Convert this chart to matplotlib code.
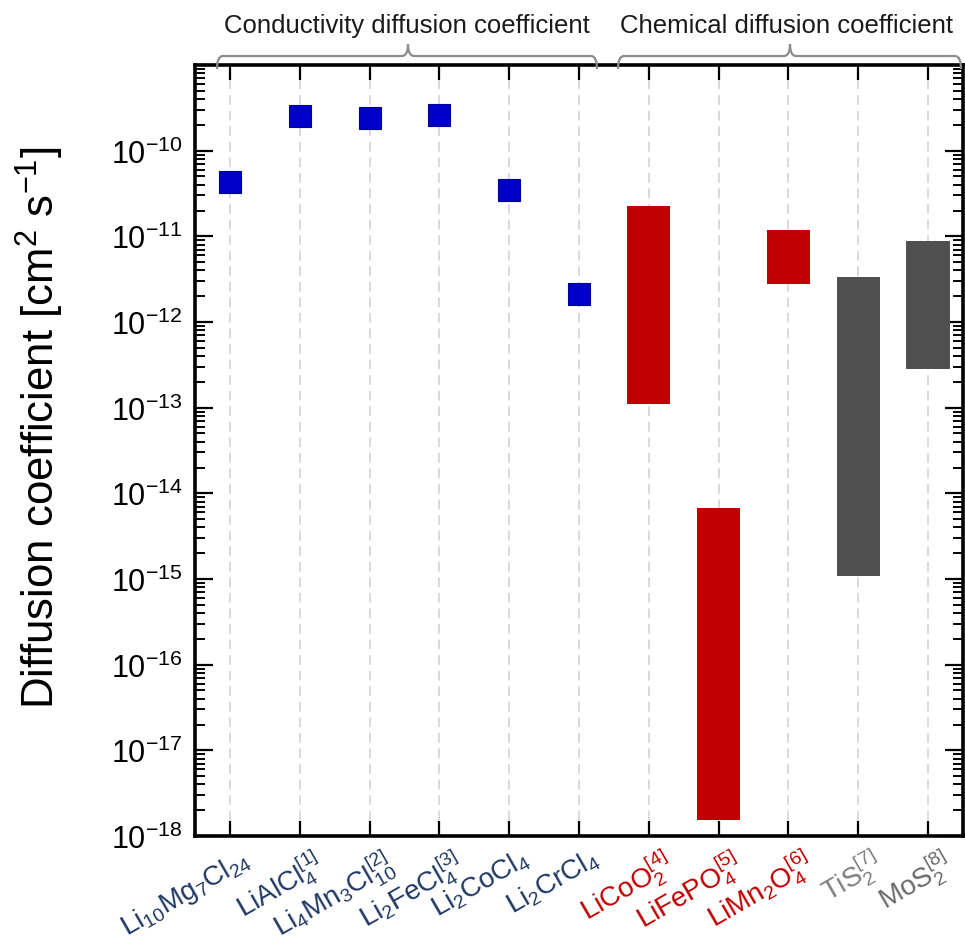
import numpy as np
import matplotlib
matplotlib.use("Agg")
import matplotlib.pyplot as plt
from matplotlib import font_manager as fm
from matplotlib.path import Path
from matplotlib.patches import PathPatch
import matplotlib.ticker as mticker
import matplotlib.transforms as mtransforms

# ---- data ----
conductivity_labels = [
    r"Li$_{10}$Mg$_7$Cl$_{24}$",
    r"LiAlCl$_4^{[1]}$",
    r"Li$_4$Mn$_3$Cl$_{10}^{[2]}$",
    r"Li$_2$FeCl$_4^{[3]}$",
    r"Li$_2$CoCl$_4$",
    r"Li$_2$CrCl$_4$",
]
conductivity_values = [4.35e-11, 2.56e-10, 2.40e-10, 2.58e-10, 3.47e-11, 2.13e-12]

chemical_labels = [
    r"LiCoO$_2^{[4]}$",
    r"LiFePO$_4^{[5]}$",
    r"LiMn$_2$O$_4^{[6]}$",
    r"TiS$_2^{[7]}$",
    r"MoS$_2^{[8]}$",
]
chemical_low = [1.10e-13, 1.55e-18, 2.79e-12, 1.08e-15, 2.79e-13]
chemical_high = [2.24e-11, 6.80e-15, 1.17e-11, 3.37e-12, 8.90e-12]

label_colors = ["#1F3864"] * 6 + ["#C00000"] * 3 + ["#7F7F7F", "#6A6A6A"]
bar_colors = ["#C00000", "#C00000", "#C00000", "#505050", "#505050"]

header_left = "Conductivity diffusion coefficient"
header_right = "Chemical diffusion coefficient"

# ---- fonts ----
names = {f.name for f in fm.fontManager.ttflist}
base_font = "Liberation Sans" if "Liberation Sans" in names else "DejaVu Sans"

plt.rcParams["font.family"] = [base_font, "DejaVu Sans"]
plt.rcParams["mathtext.default"] = "regular"
plt.rcParams["axes.unicode_minus"] = False

W, H = 965, 945
fig = plt.figure(figsize=(W / 100, H / 100), dpi=100)
ax = fig.add_axes([195 / W, 1 - 837 / H, (963 - 195) / W, (837 - 66) / H])

n_cond = len(conductivity_values)
x_cond = np.arange(n_cond)
x_chem = np.arange(n_cond, n_cond + len(chemical_low))
all_labels = conductivity_labels + chemical_labels

# grid lines at each category
for xi in range(len(all_labels)):
    ax.axvline(xi, color="#D9D9D9", lw=1.4, ls=(0, (5, 3)), zorder=0)

# floating range bars
low = np.array(chemical_low)
high = np.array(chemical_high)
ax.bar(x_chem, high - low, bottom=low, width=0.62, color=bar_colors,
       edgecolor="none", zorder=2)

# conductivity markers
ax.plot(x_cond, conductivity_values, ls="none", marker="s", ms=16,
        mfc="#0000C8", mec="#00009A", mew=0.8, zorder=3)

ax.set_yscale("log")
ax.set_ylim(1e-18, 1e-9)
ax.set_xlim(-0.5, len(all_labels) - 0.5)

ax.yaxis.set_major_locator(mticker.LogLocator(base=10, numticks=20))
ax.yaxis.set_minor_locator(mticker.LogLocator(base=10, subs=np.arange(2, 10), numticks=20))
ax.yaxis.set_minor_formatter(mticker.NullFormatter())

def fmt(v, pos):
    e = int(round(np.log10(v)))
    if e == -9:
        return ""
    return r"$\mathdefault{10^{%d}}$" % e

ax.yaxis.set_major_formatter(mticker.FuncFormatter(fmt))

ax.tick_params(axis="y", which="major", direction="in", length=13, width=1.6,
               left=True, right=True, labelsize=22, pad=9)
ax.tick_params(axis="y", which="minor", direction="in", length=7, width=1.4,
               left=True, right=True)
ax.tick_params(axis="x", which="major", direction="in", length=11, width=1.6,
               top=True, bottom=True)
ax.tick_params(axis="x", which="minor", bottom=False, top=False)

ax.set_xticks(range(len(all_labels)))
ax.set_xticklabels(all_labels, rotation=30, ha="right", rotation_mode="anchor",
                   fontsize=20)
offset = mtransforms.ScaledTranslation(8 / 72, -2 / 72, fig.dpi_scale_trans)
for lab, c in zip(ax.get_xticklabels(), label_colors):
    lab.set_color(c)
    lab.set_transform(lab.get_transform() + offset)

for sp in ax.spines.values():
    sp.set_linewidth(2.6)

ax.set_ylabel(r"Diffusion coefficient [cm$^2$ s$^{-1}$]", fontsize=31.5)
ax.yaxis.set_label_coords((66 - 195) / 768, (837 - 428) / 771)

# ---- headers with braces ----
def fig_xy(px, py):
    return (px / W, 1 - py / H)

def brace(xl, xr, xc, y0=57, yend=70, ytip=45, r=6):
    verts = [
        fig_xy(xl, yend), fig_xy(xl, y0), fig_xy(xl + r, y0),
        fig_xy(xc - r, y0), fig_xy(xc, y0), fig_xy(xc, ytip),
        fig_xy(xc, ytip), fig_xy(xc, y0), fig_xy(xc + r, y0),
        fig_xy(xr - r, y0), fig_xy(xr, y0), fig_xy(xr, yend),
    ]
    codes = [Path.MOVETO, Path.CURVE3, Path.CURVE3,
             Path.LINETO, Path.CURVE3, Path.CURVE3,
             Path.MOVETO, Path.CURVE3, Path.CURVE3,
             Path.LINETO, Path.CURVE3, Path.CURVE3]
    patch = PathPatch(Path(verts, codes), transform=fig.transFigure,
                      facecolor="none", edgecolor="#8C8C8C", lw=1.6)
    fig.add_artist(patch)

brace(217, 597, 408)
brace(618, 961, 790)

hdr_kw = dict(fontsize=18.5, color="#1A1A1A", ha="center", va="center")
fig.text(*fig_xy(407, 26), header_left, **hdr_kw)
fig.text(*fig_xy(786, 26), header_right, **hdr_kw)

fig.savefig("out.png", dpi=100)
